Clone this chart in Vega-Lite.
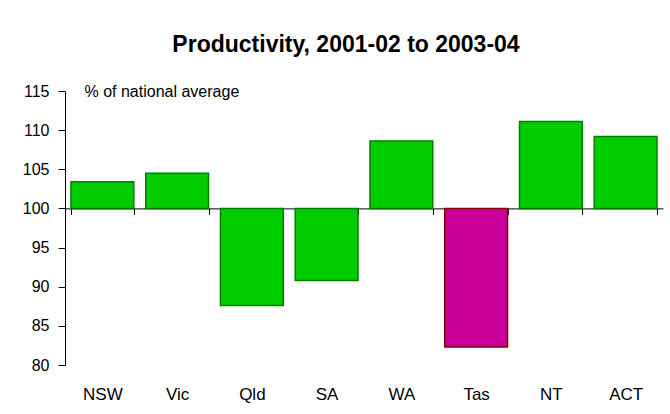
{
  "$schema": "https://vega.github.io/schema/vega-lite/v6.json",
  "autosize": "none",
  "width": 598,
  "height": 274,
  "padding": {"left": 65, "top": 91, "right": 7, "bottom": 49},
  "background": "white",
  "title": {
    "text": "Productivity, 2001-02 to 2003-04",
    "font": "Liberation Sans",
    "fontSize": 23,
    "fontWeight": "bold",
    "color": "black",
    "anchor": "middle",
    "baseline": "alphabetic",
    "dx": -18,
    "offset": 8
  },
  "data": {
    "values": [
      {"state": "NSW", "value": 103.4},
      {"state": "Vic", "value": 104.5},
      {"state": "Qld", "value": 87.6},
      {"state": "SA", "value": 90.8},
      {"state": "WA", "value": 108.6},
      {"state": "Tas", "value": 82.3},
      {"state": "NT", "value": 111.1},
      {"state": "ACT", "value": 109.2}
    ]
  },
  "mark": {"type": "bar", "strokeWidth": 1.5},
  "encoding": {
    "x": {
      "field": "state",
      "type": "nominal",
      "sort": null,
      "scale": {"paddingInner": 0.16, "paddingOuter": 0.08},
      "axis": {
        "title": null,
        "orient": "bottom",
        "offset": -156.6,
        "tickBand": "extent",
        "tickSize": 6,
        "tickColor": "black",
        "domainColor": "black",
        "labelAngle": 0,
        "labelPadding": 172,
        "labelFont": "Liberation Sans",
        "labelFontSize": 17,
        "labelColor": "black"
      }
    },
    "y": {
      "field": "value",
      "type": "quantitative",
      "scale": {"domain": [80, 115], "nice": false, "zero": false},
      "axis": {
        "title": "% of national average",
        "titleAngle": 0,
        "titleAlign": "left",
        "titleBaseline": "middle",
        "titleX": 19,
        "titleY": 0,
        "titleFont": "Liberation Sans",
        "titleFontSize": 16,
        "titleFontWeight": "normal",
        "titleColor": "black",
        "values": [80, 85, 90, 95, 100, 105, 110, 115],
        "grid": false,
        "tickSize": 7,
        "tickColor": "black",
        "domainColor": "black",
        "labelFont": "Liberation Sans",
        "labelFontSize": 16,
        "labelColor": "black",
        "labelPadding": 9
      }
    },
    "y2": {"datum": 100},
    "color": {
      "condition": {"test": "datum.state === 'Tas'", "value": "#CC0099"},
      "value": "#00CC00"
    },
    "stroke": {
      "condition": {"test": "datum.state === 'Tas'", "value": "#800000"},
      "value": "#008000"
    }
  },
  "config": {"view": {"stroke": null}}
}
